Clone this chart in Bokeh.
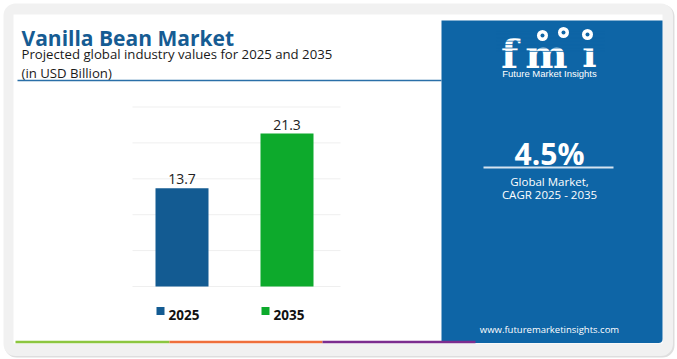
from bokeh.plotting import figure
from bokeh.models import Range1d
from bokeh.core.properties import value
from bokeh.embed import file_html
from bokeh.resources import INLINE

# ---------------- data ----------------
categories = ["2025", "2035"]
values = [13.7, 21.3]
bar_colors = ["#135b92", "#0daa2c"]
y_ticks = [0, 5, 10, 15, 20, 25]
title = "Vanilla Bean Market"
subtitle = ["Projected global industry values for 2025 and 2035", "(in USD Billion)"]
cagr = "4.5%"
cagr_lines = ["Global Market,", "CAGR 2025 - 2035"]
brand = "Future Market Insights"
website = "www.futuremarketinsights.com"

# ---------------- layout (reference pixel coordinates) ----------------
W, H = 677, 359
X0, Y0 = 0, 0
BASE_PX, TOP_PX, VMAX = 286.0, 106.5, 25.0
K = (BASE_PX - TOP_PX) / VMAX            # px per unit
C0_PX, STEP_PX = 181.5, 105.0            # first bar centre, bar spacing
BAR_W = 53.0 / STEP_PX
BLUE = "#0e65a6"
FONT = "Open Sans"

p = figure(width=W, height=H, output_backend="svg", toolbar_location=None,
           x_range=Range1d(X0, X0 + W), y_range=Range1d(Y0 + H, Y0),
           x_axis_type=None, y_axis_type=None, min_border=0,
           outline_line_color=None, background_fill_color="white",
           border_fill_color="white")
p.grid.visible = False
p.extra_y_ranges = {"val": Range1d((BASE_PX - (Y0 + H)) / K, (BASE_PX - Y0) / K)}
p.extra_x_ranges = {"cat": Range1d((X0 - C0_PX) / STEP_PX, (X0 + W - C0_PX) / STEP_PX)}


def txt(x, y, s, size, color, bold=False, align="left", baseline="alphabetic", font=FONT, **kw):
    p.text(x=[x], y=[y], text=[s], text_font=value(font), text_font_size=value(size),
           text_color=color, text_font_style="bold" if bold else "normal",
           text_align=align, text_baseline=baseline, **kw)


# card frame
p.quad(left=[4], right=[674], top=[4], bottom=[357], border_radius=12,
       fill_color="#dedede", line_color=None)
p.quad(left=[3], right=[672.5], top=[3], bottom=[355.5], border_radius=12,
       fill_color="#f1f1f1", line_color=None)
p.quad(left=[13], right=[662], top=[14], bottom=[343], fill_color="white", line_color=None)

# blue panel
p.quad(left=[441], right=[662], top=[20], bottom=[342.5], border_radius=(0, 0, 4, 0),
       fill_color=BLUE, line_color=None)

# header
txt(21, 37, title, "21px", "#165c93", bold=True)
txt(21, 53.5, subtitle[0], "13.2px", "#1a1a1a")
txt(21, 72, subtitle[1], "13.2px", "#1a1a1a")
p.segment(x0=[17], x1=[441], y0=[80], y1=[80], line_color="#2a6fa8", line_width=1.6)

# grid lines
p.segment(x0=[132] * len(y_ticks), x1=[340] * len(y_ticks), y0=y_ticks, y1=y_ticks,
          y_range_name="val", line_color="#efefef", line_width=1)

# bars
idx = list(range(len(categories)))
p.vbar(x=idx, top=values, bottom=0, width=BAR_W, fill_color=bar_colors, line_color=None,
       x_range_name="cat", y_range_name="val")
p.text(x=idx, y=values, text=[f"{v:.1f}" for v in values], x_range_name="cat",
       y_range_name="val", y_offset=-9, text_align="center", text_baseline="alphabetic",
       text_font=value(FONT), text_font_size=value("14px"), text_color="#222222")

# legend
for i, (c, col) in enumerate(zip(categories, bar_colors)):
    lx = 156 + i * STEP_PX
    p.quad(left=[lx], right=[lx + 8], top=[306.5], bottom=[314.5], fill_color=col, line_color=None)
    txt(lx + 12, 314.5, c, "13.5px", "#111111", bold=True)

# logo
for ch, cx, fs in zip(["f", "m", "ı"], [509, 546, 589], ["40px", "40px", "38px"]):
    txt(cx, 52.5, ch, fs, "white", bold=True, align="center", font="DejaVu Serif")
stripe_y = [30.5 + 3.4 * j for j in range(7)]
p.segment(x0=[496] * len(stripe_y), x1=[604] * len(stripe_y), y0=stripe_y, y1=stripe_y,
          line_color=BLUE, line_width=0.8)
p.scatter(x=[542, 563, 587], y=[35, 32, 34], size=11, fill_color="white", line_color=None)
p.scatter(x=[542, 563, 587], y=[35, 32, 34], size=4, fill_color=BLUE, line_color=None)
txt(549, 73, brand, "9.5px", "white", align="center", baseline="middle", font="Liberation Sans")

# CAGR block
txt(549, 153, cagr, "30px", "white", bold=True, align="center")
p.segment(x0=[483], x1=[613], y0=[167], y1=[167], line_color="#d4e3f0", line_width=2)
txt(549, 181, cagr_lines[0], "11.5px", "white", align="center", baseline="middle")
txt(549, 193.5, cagr_lines[1], "11.5px", "white", align="center", baseline="middle")
txt(549, 329, website, "9.5px", "white", align="center", baseline="middle")

# bottom coloured rule
p.segment(x0=[15, 169, 322], x1=[169, 322, 475], y0=[341.5] * 3, y1=[341.5] * 3,
          line_color=["#8cc63f", "#ef6f3b", "#7c2d8f"], line_width=2.5)

open("out.html", "w").write(file_html(p, INLINE))
